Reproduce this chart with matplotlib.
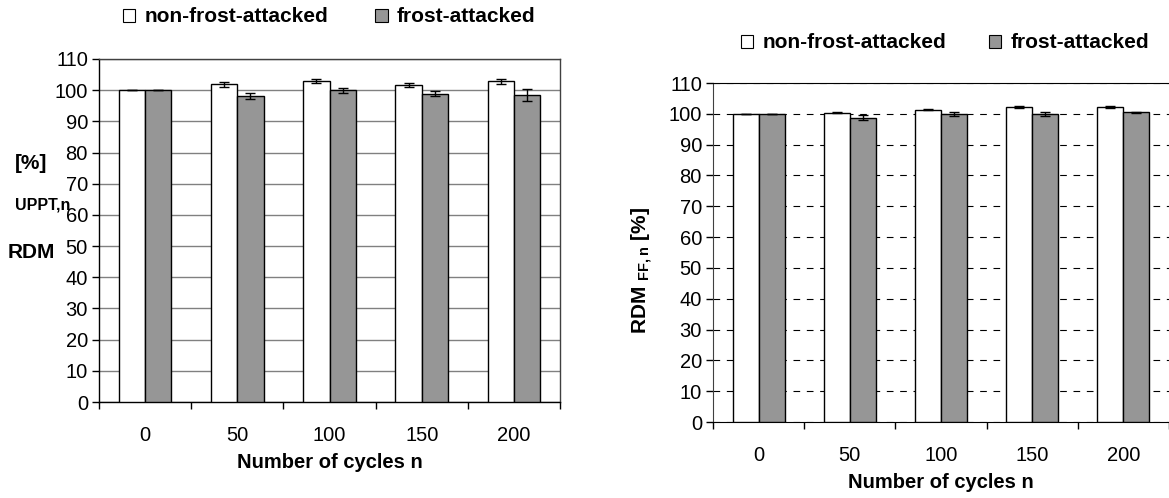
import matplotlib
matplotlib.use('Agg')
import matplotlib.pyplot as plt
import numpy as np
from matplotlib.patches import Patch

plt.rcParams['font.family'] = ['Liberation Sans', 'DejaVu Sans']
plt.rcParams['mathtext.fontset'] = 'custom'
plt.rcParams['mathtext.rm'] = 'Liberation Sans'
plt.rcParams['mathtext.bf'] = 'Liberation Sans:bold'

cycles = ['0', '50', '100', '150', '200']
series_names = ['non-frost-attacked', 'frost-attacked']

# left chart: RDM UPPT,n
uppt_non = [100.0, 101.9, 102.9, 101.6, 102.9]
uppt_non_err = [0.0, 0.8, 0.7, 0.7, 0.8]
uppt_frost = [100.0, 98.2, 100.0, 98.9, 98.5]
uppt_frost_err = [0.0, 0.9, 0.8, 0.7, 2.0]

# right chart: RDM FF,n
ff_non = [100.0, 100.4, 101.4, 102.2, 102.2]
ff_non_err = [0.0, 0.2, 0.3, 0.3, 0.2]
ff_frost = [100.0, 98.8, 100.0, 100.0, 100.5]
ff_frost_err = [0.0, 0.7, 0.7, 0.7, 0.2]

white = 'white'
grey = '#969696'
bar_w = 0.286
W, H = 1169, 498


def draw_bars(ax, non, non_err, frost, frost_err):
    x = np.arange(len(cycles))
    ax.bar(x - bar_w / 2, non, bar_w, color=white, edgecolor='black', linewidth=1.0, zorder=3)
    ax.bar(x + bar_w / 2, frost, bar_w, color=grey, edgecolor='black', linewidth=1.0, zorder=3)
    ax.errorbar(x - bar_w / 2, non, yerr=non_err, fmt='none', ecolor='black',
                elinewidth=1.0, capsize=3.5, capthick=1.0, zorder=4)
    ax.errorbar(x + bar_w / 2, frost, yerr=frost_err, fmt='none', ecolor='black',
                elinewidth=1.0, capsize=3.5, capthick=1.0, zorder=4)

    ax.set_xlim(-0.5, len(cycles) - 0.5)
    ax.set_ylim(0, 110)
    ax.set_yticks(range(0, 111, 10))
    ax.set_xticks(x)
    ax.set_xticklabels(cycles)
    ax.set_xticks(np.arange(-0.5, len(cycles), 1.0), minor=True)
    ax.tick_params(axis='x', which='major', length=0, labelsize=14.5, pad=17)
    ax.tick_params(axis='x', which='minor', length=5, width=1, direction='out')
    ax.tick_params(axis='y', length=5, width=1, direction='out', labelsize=14.5, pad=3)
    ax.set_xlabel('Number of cycles n', fontsize=14.5, fontweight='bold', labelpad=6)


def add_legend(fig, x, y, spacing):
    handles = [Patch(facecolor=white, edgecolor='black', linewidth=0.8),
               Patch(facecolor=grey, edgecolor='black', linewidth=0.8)]
    fig.legend(handles, series_names, loc='center', bbox_to_anchor=(x, y), ncol=2,
               frameon=False, handlelength=0.6, handleheight=0.6, handletextpad=0.45,
               columnspacing=spacing, borderpad=0, borderaxespad=0,
               prop={'weight': 'bold', 'size': 15})


fig = plt.figure(figsize=(W / 100, H / 100), dpi=100)

# left panel
ax1 = fig.add_axes([99 / W, 1 - 402 / H, 461 / W, 343 / H])
draw_bars(ax1, uppt_non, uppt_non_err, uppt_frost, uppt_frost_err)
ax1.grid(axis='y', color='#808080', linewidth=1.0, linestyle='-', zorder=0)
ax1.set_axisbelow(True)
for side in ['top', 'right']:
    ax1.spines[side].set_color('#404040')
for side in ax1.spines:
    ax1.spines[side].set_linewidth(1.0)
fig.text(8 / W, 1 - 253 / H, 'RDM', fontsize=15, fontweight='bold', va='center', ha='left')
fig.text(15 / W, 1 - 205 / H, 'UPPT,n', fontsize=11.5, fontweight='bold', va='center', ha='left')
fig.text(15 / W, 1 - 163 / H, '[%]', fontsize=15, fontweight='bold', va='center', ha='left')
add_legend(fig, 329 / W, 1 - 17 / H, 2.25)

# right panel
ax2 = fig.add_axes([713 / W, 1 - 422 / H, 456 / W, 339 / H])
draw_bars(ax2, ff_non, ff_non_err, ff_frost, ff_frost_err)
ax2.grid(axis='y', color='black', linewidth=0.8, linestyle=(0, (6, 6)), zorder=0)
ax2.set_axisbelow(True)
ax2.spines['right'].set_visible(False)
ax2.spines['left'].set_color('#404040')
fig.text(642 / W, 1 - 270 / H, r'$\mathbf{RDM}$ $_{\mathbf{FF,n}}$ $\mathbf{[\%]}$',
         fontsize=15, rotation=90, ha='center', va='center')
add_legend(fig, 945 / W, 1 - 43 / H, 2.05)

fig.savefig('out.png', dpi=100)
